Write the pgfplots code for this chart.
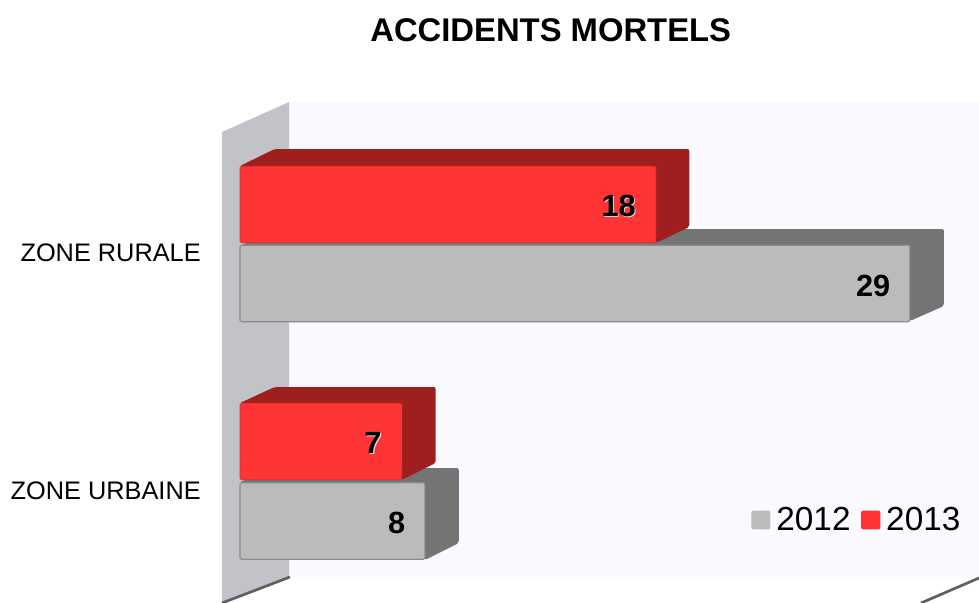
\documentclass[border=0pt]{standalone}
\usepackage{fontspec}
\setmainfont{Liberation Sans}
\usepackage{pgfplots}
\pgfplotsset{compat=1.18}
\definecolor{wallc}{HTML}{C1C3C9}
\definecolor{panelc}{HTML}{F9F9FF}
\definecolor{greyf}{HTML}{BBBBBB}
\definecolor{greyd}{HTML}{747474}
\definecolor{greye}{HTML}{8C8C8C}
\definecolor{redf}{HTML}{FF3535}
\definecolor{redd}{HTML}{9F1F1F}
\definecolor{rede}{HTML}{D83030}
\definecolor{floorl}{HTML}{5F5F5F}
\newcommand\halo[1]{\rlap{\hspace{.8pt}\raisebox{-.7pt}{\textcolor{white!85!black}{#1}}}#1}
\begin{document}
\begin{tikzpicture}
\begin{axis}[
  /pgf/number format/assume math mode=true,
  scale only axis, width=734.25pt, height=452.25pt,
  xmin=-10.39, xmax=31.99, ymin=0, ymax=603, y dir=reverse,
  axis line style={draw=none}, tick style={draw=none},
  xtick=\empty, ytick={253,491},
  yticklabels={ZONE RURALE,ZONE URBAINE},
  yticklabel style={anchor=east, inner sep=0pt, xshift=150.75pt, font=\fontsize{19}{22}\selectfont},
  title={\textbf{ACCIDENTS MORTELS}},
  title style={at={(axis cs:13.45,38)}, anchor=center, inner sep=0pt, font=\fontsize{24.6}{28}\selectfont},
  legend style={at={(axis cs:31.3,520)}, anchor=east, draw=none, fill=none, inner sep=0pt, outer sep=0pt,
    legend columns=2, font=\fontsize{25}{28}\selectfont, legend cell align=left},
  legend image code/.code={\fill[#1,draw=none] (0pt,-7.1pt) rectangle (14.25pt,7.1pt);},
]
% wall, back panel, floor lines
\addplot[fill=panelc, draw=none, forget plot] coordinates {(2.121,102) (31.99,102) (31.99,577) (2.121,577)} --cycle;
\addplot[fill=wallc, draw=none, forget plot] coordinates {(-0.779,132) (2.121,102) (2.121,577) (-0.779,603)} --cycle;
\addplot[floorl, line width=2pt, forget plot] coordinates {(-0.779,603) (2.16,577)};
\addplot[floorl, line width=2pt, forget plot] coordinates {(29.48,603) (31.99,578)};
% 3D faces of the grey bars
\addplot[fill=greyd, draw=none, rounded corners=1.5pt, forget plot] coordinates {(0,246) (1.5,229) (30.47,229) (30.47,306) (29,321) (29,246)} --cycle;
\addplot[fill=greyd, draw=none, rounded corners=1.5pt, forget plot] coordinates {(0,482) (1.5,468) (9.47,468) (9.47,543) (8,560) (8,482)} --cycle;
% grey bars
\addplot[xbar, bar shift=0pt, bar width=57.4pt, fill=greyf, draw=greye, line width=0.8pt, rounded corners=1pt,
  nodes near coords, nodes near coords style={anchor=east, xshift=-11pt, yshift=-1.5pt, font=\fontsize{23}{26}\selectfont\bfseries, text=black}]
  coordinates {(29,283.5) (8,521)};
\addlegendentry{\hspace{2.5pt}2012\hspace{6pt}\mbox{}}
% 3D faces of the red bars
\addplot[fill=redd, draw=none, rounded corners=1.5pt, forget plot] coordinates {(0,166) (1.5,149) (19.45,149) (19.45,227) (18,243) (18,166)} --cycle;
\addplot[fill=redd, draw=none, rounded corners=1.5pt, forget plot] coordinates {(0,403) (1.5,387) (8.47,387) (8.47,463) (7,480) (7,403)} --cycle;
% red bars
\addplot[xbar, bar shift=0pt, bar width=57.4pt, fill=redf, draw=rede, line width=0.6pt, rounded corners=1pt,
  nodes near coords={\halo{\pgfmathprintnumber{\pgfplotspointmeta}}}, nodes near coords style={anchor=east, xshift=-11.5pt, yshift=-1.5pt, font=\fontsize{23}{26}\selectfont\bfseries, text=black}]
  coordinates {(18,204.5) (7,441.5)};
\addlegendentry{\hspace{2.5pt}2013}
\end{axis}
\end{tikzpicture}
\end{document}
